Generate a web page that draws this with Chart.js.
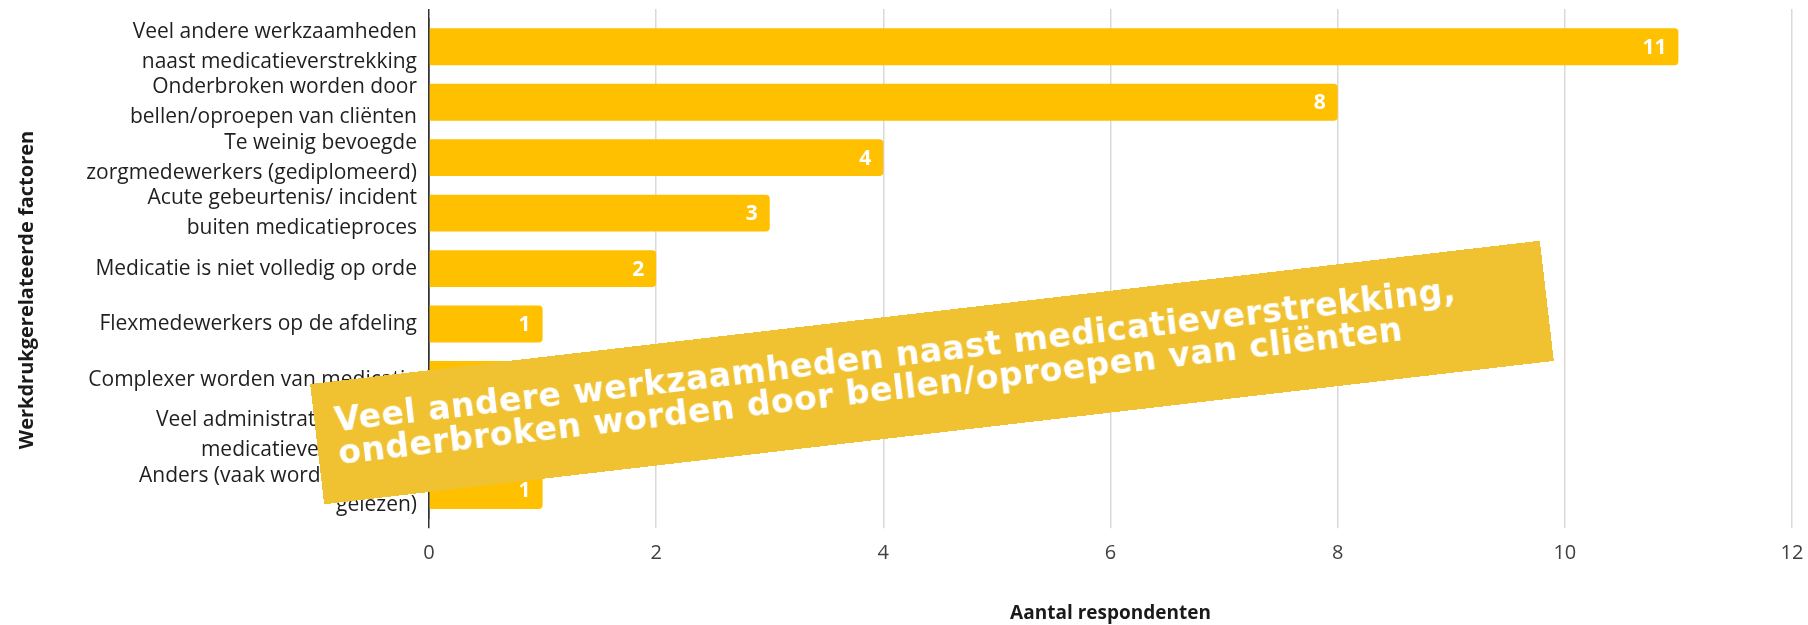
<!DOCTYPE html>
<html>
<head>
<meta charset="utf-8">
<script src="https://cdn.jsdelivr.net/npm/chart.js"></script>
<style>
  body { margin: 0; background: #fff; }
  #wrap { position: relative; width: 1808px; height: 625px; overflow: hidden; }
  #banner {
    position: absolute;
    left: 313px;
    top: 312px;
    width: 1238px;
    height: 121px;
    box-sizing: border-box;
    padding: 22px 0 0 20px;
    background: rgb(240, 194, 50);
    color: #fff;
    font-family: "DejaVu Sans", sans-serif;
    font-weight: bold;
    font-size: 33px;
    line-height: 33px;
    letter-spacing: 0.6px;
    white-space: nowrap;
    transform: rotate(-6.65deg);
    transform-origin: center;
  }
</style>
</head>
<body>
<div id="wrap">
  <canvas id="factorChart" width="1808" height="625"></canvas>
  <div id="banner">Veel andere werkzaamheden naast medicatieverstrekking,<br>onderbroken worden door bellen/oproepen van cliënten</div>
</div>
<script>

const factorLabels = [
    ['Veel andere werkzaamheden', 'naast medicatieverstrekking'],
    ['Onderbroken worden door', 'bellen/oproepen van cliënten'],
    ['Te weinig bevoegde', 'zorgmedewerkers (gediplomeerd)'],
    ['Acute gebeurtenis/ incident', 'buiten medicatieproces'],
    'Medicatie is niet volledig op orde',
    'Flexmedewerkers op de afdeling',
    'Complexer worden van medicatie',
    ['Veel administratie rondom', 'medicatieverstrekking'],
    ['Anders (vaak wordt er slecht', 'gelezen)']
]
const respondentCounts = [11, 8, 4, 3, 2, 1, 1, 1, 1]
const xTickValues = [0, 2, 4, 6, 8, 10, 12]
const yAxisTitle = 'Werkdrukgerelateerde factoren'

// white value inside the end of each bar
const barValueLabels = {
    id: 'barValueLabels',
    afterDatasetsDraw(chart) {
        const ctx = chart.ctx
        const meta = chart.getDatasetMeta(0)
        ctx.save()
        ctx.fillStyle = '#ffffff'
        ctx.font = 'bold 21px "Open Sans"'
        ctx.textAlign = 'right'
        ctx.textBaseline = 'middle'
        meta.data.forEach(function(bar, i) {
            ctx.fillText(String(respondentCounts[i]), bar.x - 12, bar.y + 1)
        })
        ctx.restore()
    }
}

// y title sits a bit lower than the chart area middle in the original
const yTitlePlugin = {
    id: 'yTitlePlugin',
    afterDraw(chart) {
        const ctx = chart.ctx
        ctx.save()
        ctx.translate(27, 290)
        ctx.rotate(-Math.PI / 2)
        ctx.fillStyle = '#1a1a1a'
        ctx.font = 'bold 20px "Open Sans"'
        ctx.textAlign = 'center'
        ctx.textBaseline = 'middle'
        ctx.fillText(yAxisTitle, 0, 0)
        ctx.restore()
    }
}

function gridColor(c) {
    return c.tick && c.tick.value === 0 ? '#333333' : '#d9d9d9'
}

function noSidePadding(scale) {
    scale.paddingLeft = 0
    scale.paddingRight = 0
}

function drawFactorChart() {
    const canvas = document.getElementById('factorChart')
    new Chart(canvas, {
        type: 'bar',
        data: {
            labels: factorLabels,
            datasets: [{
                label: 'Aantal respondenten',
                data: respondentCounts,
                backgroundColor: '#FFC000',
                borderRadius: 4,
                barPercentage: 0.665,
                categoryPercentage: 1
            }]
        },
        options: {
            indexAxis: 'y',
            responsive: false,
            animation: false,
            layout: {
                padding: { top: 9, right: 16, bottom: 0, left: 0 }
            },
            plugins: {
                legend: { display: false },
                tooltip: { enabled: false }
            },
            scales: {
                x: {
                    type: 'linear',
                    position: 'bottom',
                    min: 0,
                    max: 12,
                    afterBuildTicks(scale) {
                        scale.ticks = xTickValues.map(v => ({ value: v }))
                    },
                    afterFit: noSidePadding,
                    ticks: {
                        padding: 13,
                        color: '#404040',
                        font: { family: 'Open Sans', size: 20 }
                    },
                    grid: {
                        color: gridColor,
                        lineWidth: 1.5,
                        drawTicks: true,
                        tickLength: 10
                    },
                    border: { display: false },
                    title: {
                        display: true,
                        text: 'Aantal respondenten',
                        color: '#1a1a1a',
                        font: { family: 'Open Sans', size: 19, weight: 'bold' },
                        padding: { top: 24, bottom: 0 }
                    }
                },
                xTop: {
                    type: 'linear',
                    position: 'top',
                    min: 0,
                    max: 12,
                    afterBuildTicks(scale) {
                        scale.ticks = xTickValues.map(v => ({ value: v }))
                    },
                    afterFit: noSidePadding,
                    ticks: { display: false },
                    grid: {
                        color: gridColor,
                        lineWidth: 1.5,
                        drawOnChartArea: false,
                        drawTicks: true,
                        tickLength: 10
                    },
                    border: { display: false }
                },
                y: {
                    type: 'category',
                    afterFit(scale) {
                        scale.width = 429
                        scale.paddingTop = 0
                        scale.paddingBottom = 0
                    },
                    ticks: {
                        autoSkip: false,
                        padding: 12,
                        color: '#1f1f1f',
                        font: { family: 'Open Sans', size: 21, lineHeight: 1.42 }
                    },
                    grid: { display: false, drawTicks: false },
                    border: { display: true, color: '#333333', width: 1.5 }
                }
            }
        },
        plugins: [barValueLabels, yTitlePlugin]
    })
}

drawFactorChart()
</script>
</body>
</html>
